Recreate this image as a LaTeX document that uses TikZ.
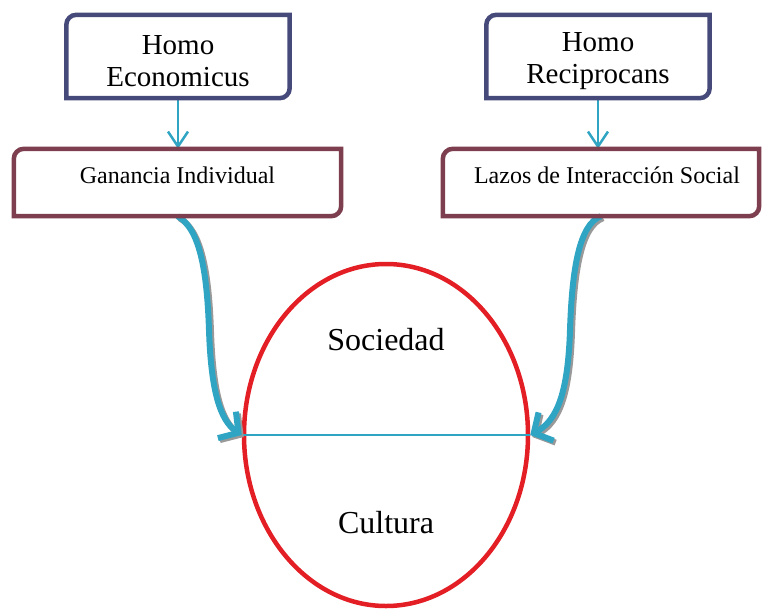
\documentclass[tikz,border=0pt]{standalone}
\usepackage{fontspec}
\setmainfont{Liberation Serif}
\usetikzlibrary{arrows.meta, positioning, shapes.geometric}
\definecolor{homoazul}{HTML}{464A7B}
\definecolor{lazovino}{HTML}{7D3F4F}
\definecolor{flecha}{HTML}{2FA5C3}
\definecolor{rojo}{HTML}{E31E25}
\newcommand{\caja}[2]{\draw[#2, line width=4.5pt] (#1.west) [rounded corners=10pt] -- (#1.north west) -- (#1.north) [sharp corners] -- (#1.north east) -- (#1.east) [rounded corners=10pt] -- (#1.south east) -- (#1.south) [sharp corners] -- (#1.south west) -- cycle;}
\newcommand{\alto}{\rule{0pt}{28pt}}
\tikzset{
  homo/.style={minimum width=223pt, minimum height=83pt, inner sep=0pt, align=center, font=\fontsize{29}{32}\selectfont},
  lazo/.style={minimum height=67pt, inner sep=0pt, text depth=15pt, font=\fontsize{24}{28}\selectfont},
  flechita/.style={-{Straight Barb[length=15pt,width=20pt]}, flecha, line width=2.5pt},
  flechota/.style={-{Straight Barb[length=14pt,width=32pt]}, flecha, line width=6pt},
  sombra/.style={-{Straight Barb[length=14pt,width=32pt]}, draw=black!40, line width=6pt, transform canvas={shift={(2pt,-2pt)}}}
}
\begin{document}
\begin{tikzpicture}[x=1pt, y=-1pt]
\useasboundingbox (0,0) rectangle (762,610);
\node[homo] (eco) at (178,56.5) {\alto Homo\\Economicus};
\node[homo] (rec) at (598,56.5) {\alto Homo\\Reciprocans};
\node[lazo, minimum width=327pt] (gan) at (177.5,182.5) {Ganancia Individual};
\node[lazo, minimum width=316pt] (laz) at (601,182.5) {\hspace{12pt}Lazos de Interacción Social};
\node[ellipse, draw=rojo, line width=4.5pt, minimum width=284pt, minimum height=342pt, inner sep=0pt] (elipse) at (386,435) {};
\node[font=\fontsize{32}{36}\selectfont] (soc) at (386,340) {Sociedad};
\node[font=\fontsize{32}{36}\selectfont] (cul) at (386,523) {Cultura};
\draw[flecha, line width=1.5pt] (elipse.west) -- (elipse.east);
\draw[flechita] (eco.south) -- (eco.south |- gan.north);
\draw[flechita] (rec.south) -- (rec.south |- laz.north);
% flechas curvas con sombra
\draw[sombra] (gan.south) .. controls +(22,12) and +(-2,-60) .. (209,330) .. controls +(2,60) and +(-22,-15) .. (elipse.west);
\draw[flechota] (gan.south) .. controls +(22,12) and +(-2,-60) .. (209,330) .. controls +(2,60) and +(-22,-15) .. (elipse.west);
\draw[sombra] (laz.south) .. controls +(-22,8) and +(2,-60) .. (570,330) .. controls +(-2,60) and +(28,-15) .. (elipse.east);
\draw[flechota] (laz.south) .. controls +(-22,8) and +(2,-60) .. (570,330) .. controls +(-2,60) and +(28,-15) .. (elipse.east);
\caja{eco}{homoazul}
\caja{rec}{homoazul}
\caja{gan}{lazovino}
\caja{laz}{lazovino}
\end{tikzpicture}
\end{document}
